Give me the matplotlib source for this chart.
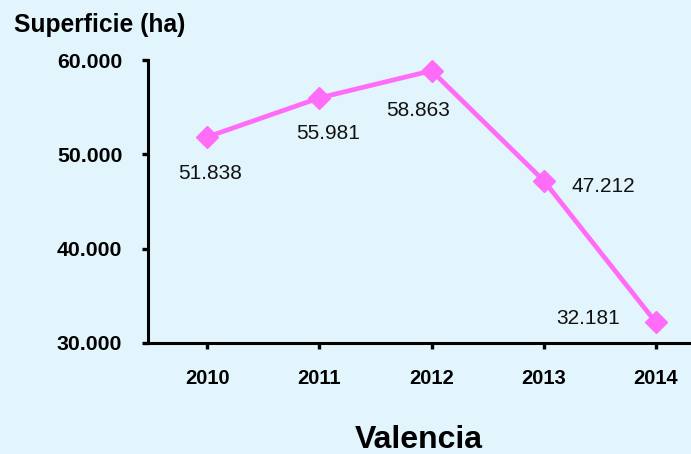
import matplotlib
matplotlib.use("Agg")
import matplotlib.pyplot as plt

# Data
years = [2010, 2011, 2012, 2013, 2014]
superficie = [51838, 55981, 58863, 47212, 32181]
value_labels = ["51.838", "55.981", "58.863", "47.212", "32.181"]
y_ticks = [30000, 40000, 50000, 60000]
y_tick_labels = ["30.000", "40.000", "50.000", "60.000"]

# label offsets in pixels (dx, dy) relative to each point
label_offsets = [(3, -37), (9, -36), (-13, -40), (60, -6), (-68, 4)]

bg = "#E3F5FC"
line_color = "#FF6CF7"

plt.rcParams["font.family"] = ["Liberation Sans", "DejaVu Sans"]

fig = plt.figure(figsize=(6.91, 4.54), dpi=100, facecolor=bg)
ax = fig.add_axes([148 / 691, 1 - 343 / 454, 1 - 148 / 691, (343 - 60) / 454])
ax.set_facecolor(bg)

ax.plot(years, superficie, color=line_color, linewidth=3.4, marker="D",
        markersize=11, markerfacecolor=line_color, markeredgecolor=line_color,
        clip_on=False)

for x, y, lab, (dx, dy) in zip(years, superficie, value_labels, label_offsets):
    ax.annotate(lab, (x, y), xytext=(dx * 0.72, dy * 0.72), textcoords="offset points",
                ha="center", va="center", fontsize=15, color="#111111")

ax.set_ylim(30000, 60000)
ax.set_xlim(2010 - 59 / 112, 2014 + 35 / 112)
ax.set_xticks(years)
ax.set_xticklabels([str(y) for y in years], fontweight="bold", fontsize=14.5)
ax.set_yticks(y_ticks)
ax.set_yticklabels(y_tick_labels, fontweight="bold", fontsize=15.3)

for side in ["top", "right"]:
    ax.spines[side].set_visible(False)
for side in ["left", "bottom"]:
    ax.spines[side].set_linewidth(2.2)
    ax.spines[side].set_color("black")

ax.tick_params(axis="x", length=4.5, width=2.4, pad=14)
ax.tick_params(axis="y", length=4.5, width=2.4, pad=14)

fig.text(14 / 691, 1 - 25 / 454, "Superficie (ha)", fontsize=17.7, fontweight="bold",
         ha="left", va="center")
fig.text(419 / 691, 1 - 440 / 454, "Valencia", fontsize=23, fontweight="bold",
         ha="center", va="center")

fig.savefig("out.png", dpi=100, facecolor=bg)
